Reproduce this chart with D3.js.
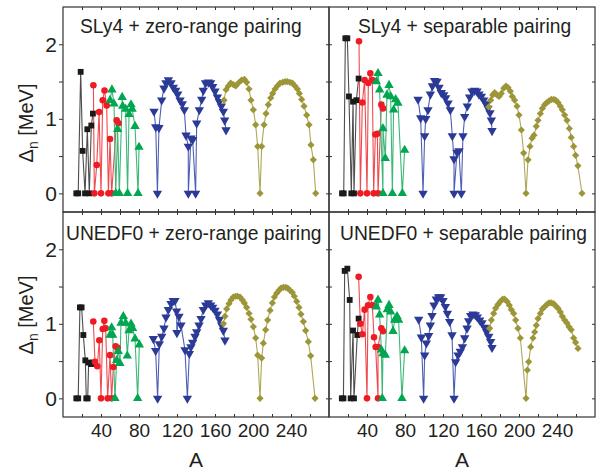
<!DOCTYPE html>
<html><head><meta charset="utf-8">
<script src="https://cdn.jsdelivr.net/npm/d3@7"></script>
<style>
html,body{margin:0;padding:0;background:#fff;}
text{font-family:"Liberation Sans",Arial,sans-serif;fill:#231f20;}
</style></head>
<body>
<svg id="chart" width="608" height="472"></svg>
<script>
// ---------- data: [A, Delta_n (MeV)] ----------
const panelTitles = ["SLy4 + zero-range pairing","SLy4 + separable pairing","UNEDF0 + zero-range pairing","UNEDF0 + separable pairing"];
const xTickLabels = [40,80,120,160,200,240];
const yTickLabels = [0,1,2];
const seriesNames = ["black","red","green","blue","olive"];

// SLy4 + zero-range
const tlBlack = [[14,0],[16,0],[18.6,1.63],[20.7,0.57],[23.2,0],[25.6,0.86],[27.7,0],[29.8,0.91],[31.5,1.07]];
const tlRed = [[32,1.45],[33,0],[35.5,0.38],[38,1.09],[40,0],[41.8,1.25],[43.7,1.38],[46,1.18],[47.8,0],[49.5,0.73],[51.2,0],[56.5,0.98],[58.4,0.94]];
const tlGreen = [[49.5,1.25],[51.5,1.39],[53.7,1.2],[55.5,0],[57.5,0.86],[59.3,0],[62.3,1.29],[62.8,1.17],[66,1.13],[68,0],[69.5,1.06],[71.6,1.19],[72.8,1.13],[75.8,0.9],[79,0],[80,0.62]];
const tlBlue = [[95.8,1.1],[97.6,0.89],[99.4,0],[101,0.88],[103.9,1.25],[106.3,1.41],[108.4,1.48],[110.9,1.52],[113.7,1.48],[116.1,1.42],[118.6,1.38],[120.7,1.33],[123.2,1.25],[125.6,1.2],[127.7,1.12],[129.5,0.78],[131.9,0.63],[131.9,0],[134.7,0.74],[136.5,0.72],[139.6,0],[140.7,0.94],[143.5,1.12],[146,1.26],[147.7,1.38],[150,1.48],[153,1.49],[155.4,1.48],[157.5,1.43],[160,1.37],[162.5,1.29],[164.6,1.23],[166.7,1.17],[168.8,1.1],[170.2,0.98],[171.6,0.85]];
const tlOlive = [[169.5,1.25],[171.6,1.39],[174,1.44],[176.5,1.48],[179.3,1.46],[181.8,1.44],[184.6,1.48],[188,1.52],[190.9,1.53],[193.3,1.49],[195.8,1.4],[197.9,1.25],[200.4,1.12],[202.8,0.92],[204.9,0.63],[207.4,0],[209.1,0.63],[211.6,0.92],[213.7,1.07],[216.1,1.19],[218.6,1.28],[220.7,1.34],[223.2,1.4],[225.6,1.44],[228.4,1.48],[231.2,1.49],[233.7,1.5],[236.1,1.5],[238.9,1.49],[241.4,1.48],[244.2,1.44],[246.7,1.4],[248.8,1.34],[251.2,1.26],[253.7,1.17],[256.5,1.05],[259,0.92],[261,0.65],[263.5,0.45],[266,0]];

// SLy4 + separable
const trBlack = [[13.7,0],[15.5,0],[17.2,2.08],[19.3,2.08],[21,1.3],[23.5,0],[25.3,1.23],[26.3,0],[28.8,1.25],[31.2,1.54]];
const trRed = [[31.6,2.04],[33,0],[35.1,1.22],[37.5,1.52],[40,0],[41.4,1.48],[43.5,1.61],[45.6,1.52],[47,0],[48.8,0.79],[50.9,0.8],[51.6,0],[55.1,1.19],[56.8,1.14]];
const trGreen = [[49.8,1.5],[51.6,1.61],[53.3,1.39],[56.8,0],[56.8,0.87],[59.3,0.47],[61,1.32],[63.2,1.45],[64.9,1.3],[66.7,0],[68,1.12],[70.2,1.26],[72.6,1.21],[77.2,0],[79.6,0.58]];
const trBlue = [[93.7,1.26],[96.5,1.01],[99,0],[100.7,0.77],[101.8,1.0],[104.2,1.12],[106.7,1.33],[108.8,1.44],[111.2,1.51],[113.7,1.5],[115.8,1.42],[118.2,1.35],[120.7,1.32],[122.8,1.28],[125.3,1.21],[127.7,1.12],[129.8,0.77],[131.6,0.46],[131.6,0],[134.7,0.55],[136.8,0.57],[139.3,0],[141,0.77],[142.8,1.03],[145.6,1.17],[148,1.29],[150.5,1.37],[153.3,1.38],[155.8,1.37],[157.9,1.33],[160.4,1.3],[162.8,1.25],[165.3,1.2],[167.4,1.14],[169.5,1.08],[170.9,0.98],[171.6,0.84]];
const trOlive = [[168.1,1.16],[170.2,1.25],[172.3,1.32],[174.4,1.35],[176.8,1.32],[179,1.3],[181.4,1.34],[183.9,1.41],[186.3,1.44],[188.4,1.42],[190.9,1.37],[192.9,1.3],[195.4,1.25],[197.9,1.17],[200,1.05],[202.5,0.85],[204.9,0.54],[207.4,0],[209.5,0.45],[211.6,0.63],[213.7,0.74],[215.8,0.78],[218.2,0.9],[220,0.98],[222.5,1.07],[224.6,1.14],[227,1.19],[229.5,1.22],[231.6,1.24],[234,1.26],[236.5,1.26],[238.6,1.25],[241,1.22],[243.5,1.17],[245.6,1.12],[248,1.05],[250.5,0.98],[253,0.87],[255,0.75],[257.5,0.63],[259.6,0.51],[262,0.37],[266.3,0]];

// UNEDF0 + zero-range
const blBlack = [[14,0],[16,0],[17.8,1.22],[19.6,1.22],[21.4,0.85],[23.5,0.51],[24.5,0],[26,0],[27,0.48],[29.5,0.46],[31.2,0.48]];
const blRed = [[31.9,1.03],[33.7,0.49],[36.1,0.43],[38.2,0.78],[40,0],[41.8,0.93],[43.5,1.04],[44.9,0.94],[47,0],[49.5,0.58],[51.2,0],[53,0.42],[55.4,0.7],[57.5,0.68]];
const blGreen = [[49.5,0.85],[51.2,0.95],[52.3,0.85],[54.7,0],[56.5,0.51],[58.2,0.63],[60,0.47],[61,1.01],[63.5,1.1],[66,1.01],[67.7,0.57],[69.5,0.91],[71.6,1.0],[73.3,0.94],[75.8,0.8],[78.6,0],[80.4,0.72]];
const blBlue = [[95.1,0.8],[97.5,0.64],[99.6,0],[101.4,0.73],[103.9,0.83],[106.3,0.94],[108.4,1.09],[110.9,1.19],[113.7,1.27],[116.1,1.31],[117.9,1.31],[119.6,1.17],[119.9,0.88],[122.1,1.1],[124.2,0.98],[128.4,0.65],[130.9,0],[133,0.6],[134.7,0.69],[136.5,0.75],[139,0.83],[140.7,0.89],[143.2,0.98],[145.3,1.07],[147.7,1.19],[150.2,1.25],[153,1.28],[155.4,1.25],[157.5,1.22],[160,1.18],[162.5,1.13],[164.6,1.06],[167,0.98],[168.8,0.91],[170.5,0.78]];
const blOlive = [[168.8,1.0],[170.5,1.1],[172.3,1.2],[174.7,1.27],[176.8,1.32],[179.3,1.36],[181.8,1.37],[183.9,1.37],[186.3,1.36],[188.8,1.32],[190.9,1.28],[193.3,1.22],[195.8,1.14],[197.9,1.06],[200.4,0.96],[202.8,0.81],[204.9,0.58],[207.4,0],[209.1,0.54],[210.9,0.74],[213.3,0.92],[215.4,1.05],[218,1.18],[220.4,1.28],[222.5,1.36],[224.9,1.41],[227.4,1.45],[229.5,1.48],[231.9,1.49],[234.4,1.49],[236.5,1.48],[238.9,1.45],[241.4,1.42],[243.5,1.37],[246,1.3],[248.4,1.22],[250.5,1.13],[253,1.03],[255.4,0.91],[258.2,0.76],[260.7,0.57],[265.3,0]];

// UNEDF0 + separable
const brBlack = [[13.5,0],[15.2,0],[16.5,1.71],[19.3,1.74],[21.8,1.32],[22.8,0],[25.3,0.91],[26.3,0],[29.8,0.85],[31.2,1.07]];
const brRed = [[31.2,1.63],[33,1.0],[35.1,0.86],[37.5,1.19],[40,0],[41.1,1.25],[43.5,1.36],[45.6,1.25],[47.4,0.82],[49.1,0.69],[51.6,0],[51.6,0.69],[55.1,0.94],[56.8,0.9]];
const brGreen = [[49.8,1.23],[51.6,1.32],[53.3,1.12],[55.1,0.65],[56.1,0],[56.8,0.6],[59.3,0.58],[61.4,1.19],[63.2,1.25],[64.9,1.16],[67.4,0.9],[69.1,1.05],[71.6,1.1],[73.3,1.05],[76.8,0],[79.6,0.64]];
const brBlue = [[94.4,1.06],[97.2,0.82],[99.6,0],[100.7,0.58],[102.5,0.74],[104.9,0.84],[106.7,0.98],[108.4,1.11],[110.5,1.25],[113,1.33],[115.4,1.36],[117.5,1.36],[120,1.31],[122.5,1.23],[124.6,1.14],[127,1.03],[129.5,0.85],[131.6,0],[133.3,0.49],[135.8,0.58],[138.2,0.63],[140.4,0.69],[142.8,0.81],[145.3,0.94],[147,1.04],[149.1,1.11],[151.6,1.13],[154,1.12],[156.1,1.09],[158.6,1.05],[161,1.01],[163.9,0.95],[166,0.89],[168.1,0.83],[170.2,0.76],[171.6,0.68]];
const brOlive = [[169.1,0.94],[170.9,1.05],[173.3,1.14],[175.4,1.21],[177.9,1.26],[180.4,1.3],[182.8,1.33],[184.9,1.33],[187.4,1.3],[189.8,1.25],[191.9,1.19],[194.4,1.14],[196.5,1.05],[198.9,0.94],[201.4,0.81],[207.4,0],[208.8,0.38],[210.2,0.49],[212.3,0.69],[214.7,0.81],[216.5,0.89],[218.2,0.98],[220,1.07],[222.5,1.14],[224.6,1.2],[227,1.23],[229.5,1.26],[231.6,1.28],[234,1.28],[236.5,1.27],[238.6,1.24],[241,1.21],[243.5,1.16],[245.6,1.1],[248,1.05],[250.5,1.01],[252.6,0.96],[255,0.92],[257.5,0.81],[259.6,0.75],[262.1,0.67]];

const panelData = [
  [tlBlack, tlRed, tlGreen, tlBlue, tlOlive],
  [trBlack, trRed, trGreen, trBlue, trOlive],
  [blBlack, blRed, blGreen, blBlue, blOlive],
  [brBlack, brRed, brGreen, brBlue, brOlive]
];

// ---------- styling ----------
const markerColor = {black:"#1a1a1a", red:"#ed1c24", green:"#00a650", blue:"#2b3a96", olive:"#9d9638"};
const lineColor   = {black:"#4d4d4d", red:"#f04a50", green:"#3cb878", blue:"#4f60b4", olive:"#aea859"};
const markerShape = {black:"square", red:"circle", green:"up", blue:"down", olive:"diamond"};

const svg = d3.select("#chart");
const xDomain = [0, 280], yDomain = [-0.25, 2.5];
const cols = [[63, 329], [329, 595]];
const rows = [[212, 7], [417, 212]];

function symbolPath(shape) {
  if (shape === "square") return d3.symbol(d3.symbolSquare, 34)();
  if (shape === "circle") return d3.symbol(d3.symbolCircle, 34)();
  if (shape === "up" || shape === "down") return d3.symbol(d3.symbolTriangle, 38)();
  return d3.symbol(d3.symbolSquare, 26)();
}
function symbolRot(shape) {
  if (shape === "down") return 180;
  if (shape === "diamond") return 45;
  return 0;
}

panelData.forEach((series, p) => {
  const col = p % 2, row = Math.floor(p / 2);
  const x = d3.scaleLinear().domain(xDomain).range(cols[col]);
  const y = d3.scaleLinear().domain(yDomain).range(rows[row]);
  const g = svg.append("g");

  // ticks (inward)
  const xt = d3.range(20, 280, 20);
  const yt = [0, 0.5, 1, 1.5, 2];
  g.append("g").attr("transform", `translate(0,${rows[row][0]})`)
    .call(d3.axisBottom(x).tickValues(xt).tickSize(-3).tickFormat(""));
  g.append("g").attr("transform", `translate(0,${rows[row][1]})`)
    .call(d3.axisTop(x).tickValues(xt).tickSize(-3).tickFormat(""));
  g.append("g").attr("transform", `translate(${cols[col][0]},0)`)
    .call(d3.axisLeft(y).tickValues(yt).tickSize(col === 0 ? 4 : -3).tickFormat(""));
  g.append("g").attr("transform", `translate(${cols[col][1]},0)`)
    .call(d3.axisRight(y).tickValues(yt).tickSize(-3).tickFormat(""));
  g.selectAll(".domain").remove();
  g.selectAll(".tick line").attr("stroke", "#333").attr("stroke-width", 1);

  // y labels
  if (col === 0) {
    const ya = g.append("g").attr("transform", `translate(${cols[col][0]},0)`)
      .call(d3.axisLeft(y).tickValues(yTickLabels).tickSize(0).tickPadding(6).tickFormat(d3.format("d")));
    ya.select(".domain").remove();
    ya.selectAll("text").attr("font-size", 21).attr("font-family", "Liberation Sans, Arial, sans-serif").attr("fill", "#231f20");
  }
  // x labels
  if (row === 1) {
    const xa = g.append("g").attr("transform", `translate(0,${rows[row][0]})`)
      .call(d3.axisBottom(x).tickValues(xTickLabels).tickSize(0).tickPadding(7).tickFormat(d3.format("d")));
    xa.select(".domain").remove();
    xa.selectAll("text").attr("font-size", 19).attr("font-family", "Liberation Sans, Arial, sans-serif").attr("fill", "#231f20");
  }

  // data
  const line = d3.line().x(d => x(d[0])).y(d => y(d[1]));
  series.forEach((data, s) => {
    const name = seriesNames[s];
    g.append("path").datum(data).attr("d", line)
      .attr("fill", "none").attr("stroke", lineColor[name]).attr("stroke-width", 1.1);
  });
  series.forEach((data, s) => {
    const name = seriesNames[s];
    const shape = markerShape[name];
    g.append("g").selectAll("path").data(data).join("path")
      .attr("d", symbolPath(shape))
      .attr("transform", d => `translate(${x(d[0])},${y(d[1])}) rotate(${symbolRot(shape)})`)
      .attr("fill", markerColor[name]);
  });

  // frame
  g.append("rect").attr("x", cols[col][0]).attr("y", rows[row][1])
    .attr("width", cols[col][1] - cols[col][0]).attr("height", rows[row][0] - rows[row][1])
    .attr("fill", "none").attr("stroke", "#333").attr("stroke-width", 1.2);

  // title
  const tx = [80, 358, 66, 340][p];
  const ty = [33, 33, 240, 240][p];
  g.append("text").attr("x", tx).attr("y", ty).attr("font-size", 19.3).text(panelTitles[p]);

  // axis titles
  if (col === 0) {
    const cy = row === 0 ? 123 : 315;
    const t = g.append("text").attr("transform", `translate(33,${cy}) rotate(-90)`)
      .attr("text-anchor", "middle").attr("font-size", 20);
    t.append("tspan").text("Δ");
    t.append("tspan").attr("font-size", 14).attr("dy", 5).text("n");
    t.append("tspan").attr("dy", -5).text(" [MeV]");
  }
  if (row === 1) {
    g.append("text").attr("x", (cols[col][0] + cols[col][1]) / 2).attr("y", 467)
      .attr("text-anchor", "middle").attr("font-size", 21).text("A");
  }
});
</script>
</body></html>
